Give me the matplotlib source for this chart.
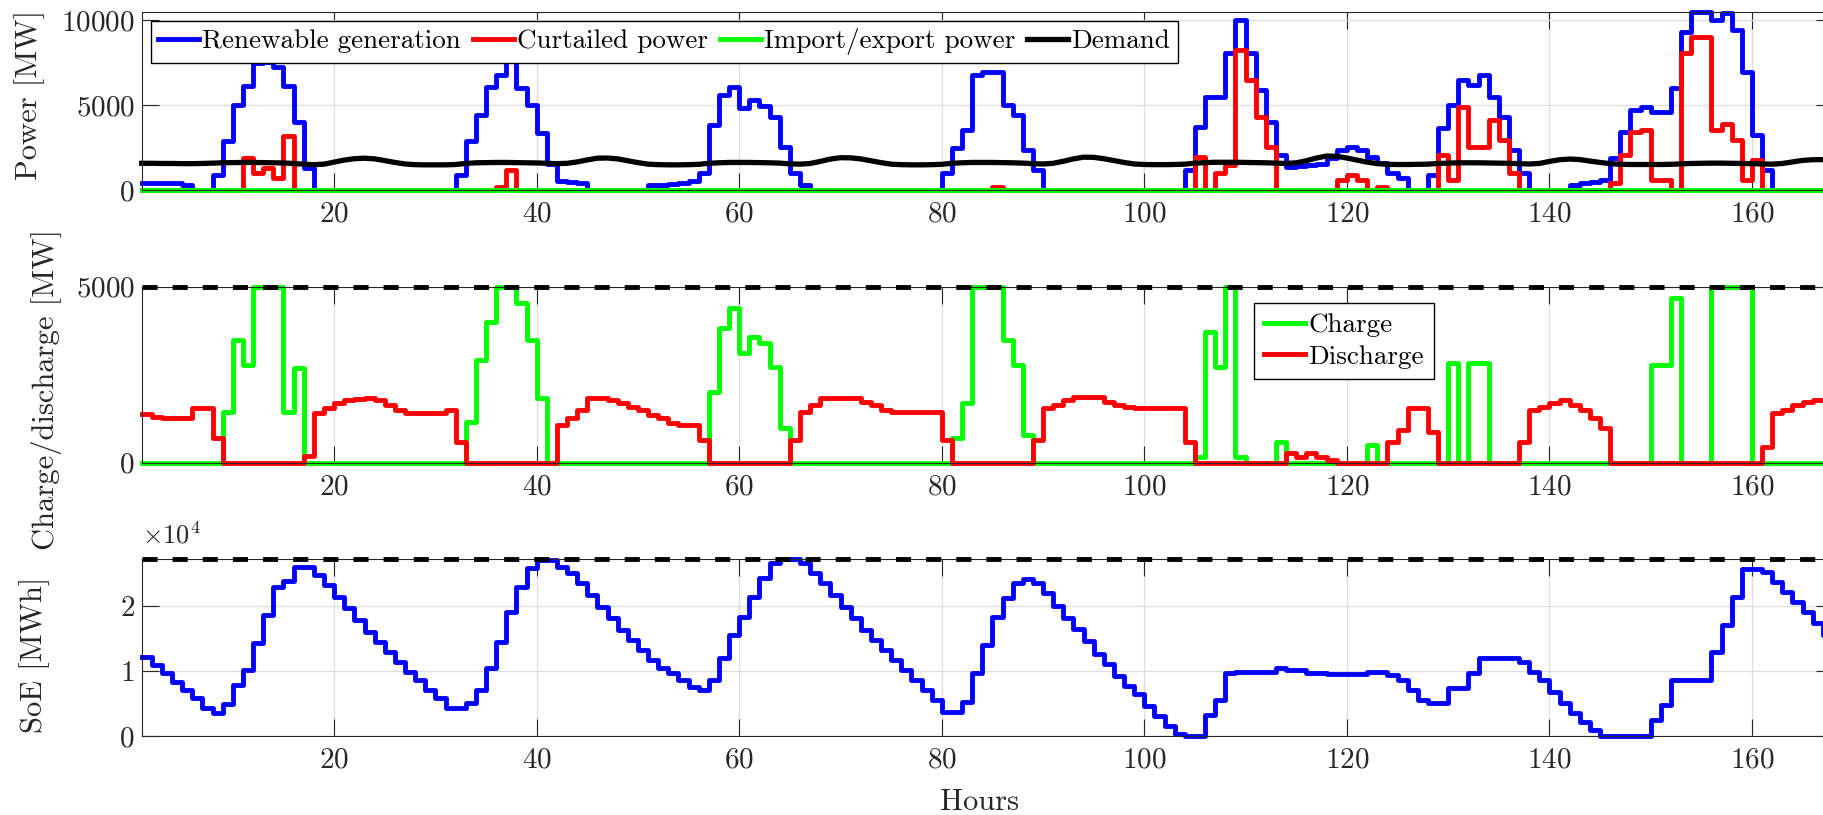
import numpy as np
import matplotlib
matplotlib.use("Agg")
import matplotlib.pyplot as plt

plt.rcParams['font.family'] = ['cmr10', 'DejaVu Serif']
plt.rcParams['mathtext.fontset'] = 'cm'
plt.rcParams['axes.formatter.use_mathtext'] = True

hours = np.arange(1, 169)

# hourly values, one row of 24 per day
renewable = [
    390, 390, 390, 390, 300, 0, 0, 900, 2900, 5000, 6100, 7450, 7550, 7250, 6100, 4000, 1300, 0, 0, 0, 0, 0, 0, 0,
    0, 0, 0, 0, 0, 0, 0, 900, 2900, 4400, 6080, 6760, 7650, 6000, 5000, 3330, 1550, 550, 450, 400, 0, 0, 0, 0,
    0, 0, 280, 320, 380, 430, 500, 1000, 3820, 5590, 6080, 4800, 5290, 4940, 4310, 2550, 980, 290, 0, 0, 0, 0, 0, 0,
    0, 0, 0, 0, 0, 0, 0, 1000, 2450, 3530, 6760, 6960, 6960, 5000, 4430, 2350, 1180, 0, 0, 0, 0, 0, 0, 0,
    0, 0, 0, 0, 0, 0, 0, 1180, 3730, 5490, 5490, 8040, 10000, 8040, 5880, 4020, 2060, 1370, 1400, 1450, 1500, 1900, 2350, 2550,
    2350, 1960, 1570, 980, 700, 0, 0, 880, 3630, 5000, 6470, 6180, 6760, 5490, 4310, 2350, 980, 0, 0, 0, 0, 290, 390, 480,
    590, 1860, 3430, 4700, 4900, 4600, 4600, 5980, 9310, 10450, 10450, 10000, 10400, 9410, 6960, 3240, 1180, 0, 0, 0, 0, 0, 0, 0,
]
curtailed = [
    0, 0, 0, 0, 0, 0, 0, 0, 0, 0, 1900, 1000, 1300, 700, 3200, 0, 0, 0, 0, 0, 0, 0, 0, 0,
    0, 0, 0, 0, 0, 0, 0, 0, 0, 0, 0, 200, 1200, 0, 0, 0, 0, 0, 0, 0, 0, 0, 0, 0,
    0, 0, 0, 0, 0, 0, 0, 0, 0, 0, 0, 0, 0, 0, 0, 0, 0, 0, 0, 0, 0, 0, 0, 0,
    0, 0, 0, 0, 0, 0, 0, 0, 0, 0, 0, 0, 200, 0, 0, 0, 0, 0, 0, 0, 0, 0, 0, 0,
    0, 0, 0, 0, 0, 0, 0, 0, 1960, 0, 980, 1470, 8240, 6470, 4310, 2550, 0, 0, 0, 0, 0, 0, 590, 880,
    590, 0, 200, 0, 0, 0, 0, 0, 2060, 590, 4900, 2550, 2550, 4120, 2940, 980, 0, 0, 0, 0, 0, 0, 0, 0,
    0, 400, 2060, 3400, 3530, 590, 590, 0, 8040, 9020, 9020, 3530, 3900, 2940, 590, 1760, 0, 0, 0, 0, 0, 0, 0, 0,
]
import_export = [0] * 168
demand = [
    1570, 1570, 1560, 1560, 1550, 1550, 1560, 1580, 1600, 1610, 1620, 1620, 1610, 1600, 1590, 1560, 1520, 1490, 1520, 1640, 1760, 1840, 1870, 1830,
    1730, 1620, 1530, 1490, 1480, 1480, 1480, 1500, 1560, 1600, 1610, 1620, 1620, 1610, 1600, 1590, 1570, 1550, 1570, 1650, 1770, 1870, 1880, 1830,
    1720, 1610, 1520, 1490, 1480, 1480, 1490, 1510, 1570, 1600, 1620, 1620, 1620, 1610, 1600, 1580, 1540, 1520, 1560, 1680, 1820, 1900, 1890, 1830,
    1720, 1610, 1520, 1490, 1480, 1480, 1490, 1510, 1570, 1600, 1620, 1620, 1620, 1610, 1600, 1580, 1550, 1530, 1570, 1690, 1830, 1930, 1920, 1840,
    1730, 1620, 1530, 1500, 1490, 1490, 1500, 1520, 1580, 1610, 1630, 1630, 1630, 1620, 1610, 1600, 1580, 1560, 1600, 1720, 1880, 2000, 1980, 1880,
    1760, 1640, 1550, 1510, 1500, 1500, 1510, 1520, 1560, 1580, 1600, 1600, 1600, 1590, 1580, 1570, 1550, 1530, 1560, 1680, 1780, 1820, 1790, 1700,
    1620, 1550, 1510, 1500, 1500, 1500, 1500, 1510, 1540, 1560, 1570, 1580, 1580, 1570, 1560, 1550, 1530, 1520, 1560, 1650, 1740, 1780, 1790, 1760,
]
charge = [
    0, 0, 0, 0, 0, 0, 0, 0, 1450, 3490, 2780, 5000, 5000, 5000, 1450, 2680, 0, 0, 0, 0, 0, 0, 0, 0,
    0, 0, 0, 0, 0, 0, 0, 0, 1165, 2920, 4000, 5000, 5000, 4530, 3490, 1830, 0, 0, 0, 0, 0, 0, 0, 0,
    0, 0, 0, 0, 0, 0, 0, 0, 2020, 3820, 4390, 3110, 3580, 3390, 2730, 980, 0, 0, 0, 0, 0, 0, 0, 0,
    0, 0, 0, 0, 0, 0, 0, 0, 700, 1690, 5000, 5000, 5000, 3490, 2780, 790, 0, 0, 0, 0, 0, 0, 0, 0,
    0, 0, 0, 0, 0, 0, 0, 0, 170, 3720, 2730, 5000, 170, 0, 0, 0, 600, 0, 0, 0, 0, 0, 0, 0,
    0, 500, 0, 0, 0, 0, 0, 0, 0, 2820, 0, 2820, 2820, 0, 0, 0, 0, 0, 0, 0, 0, 0, 0, 0,
    0, 0, 0, 0, 0, 2780, 2780, 4670, 0, 0, 0, 5000, 5000, 5000, 5000, 0, 0, 0, 0, 0, 0, 0, 0, 0,
]
discharge = [
    1380, 1310, 1260, 1260, 1260, 1550, 1550, 700, 0, 0, 0, 0, 0, 0, 0, 0, 200, 1400, 1550, 1690, 1780, 1800, 1830, 1780,
    1640, 1500, 1420, 1400, 1400, 1400, 1500, 600, 0, 0, 0, 0, 0, 0, 0, 0, 0, 1070, 1260, 1500, 1830, 1830, 1780, 1690,
    1590, 1500, 1350, 1260, 1120, 1070, 1070, 645, 0, 0, 0, 0, 0, 0, 0, 0, 645, 1450, 1640, 1830, 1830, 1830, 1830, 1730,
    1640, 1500, 1450, 1450, 1450, 1450, 1450, 645, 0, 0, 0, 0, 0, 0, 0, 0, 645, 1545, 1640, 1780, 1880, 1880, 1880, 1730,
    1640, 1590, 1545, 1545, 1545, 1545, 1545, 600, 0, 0, 0, 0, 0, 0, 0, 0, 0, 265, 170, 280, 170, 80, 0, 0,
    0, 0, 0, 600, 930, 1545, 1545, 880, 0, 0, 0, 0, 0, 0, 0, 0, 600, 1500, 1590, 1690, 1780, 1640, 1500, 1260,
    1000, 0, 0, 0, 0, 0, 0, 0, 0, 0, 0, 0, 0, 0, 0, 0, 455, 1400, 1500, 1640, 1730, 1780, 1780, 1780,
]
soe = [
    12160, 10890, 9610, 8340, 7060, 5780, 4350, 3580, 4860, 7820, 10120, 14210, 18560, 22900, 23700, 25970, 25970, 24690, 23160, 21370, 19580, 17790, 16000, 14470,
    12930, 11400, 9860, 8590, 7060, 5780, 4250, 4250, 5010, 7060, 10380, 14470, 19070, 22900, 25720, 26990, 26990, 25970, 24950, 23420, 21630, 19840, 18050, 16260,
    14720, 13190, 11660, 10380, 9610, 8590, 7570, 7060, 8590, 11910, 15490, 18300, 21370, 24180, 26480, 27150, 27150, 26480, 24950, 23420, 21630, 19840, 18050, 16260,
    14720, 13190, 11660, 10130, 8590, 7060, 5520, 3730, 3730, 5270, 9610, 13960, 18300, 21120, 23420, 24030, 23420, 21880, 19950, 18150, 16360, 14570, 12520, 10990,
    9200, 7670, 6390, 4600, 3070, 1530, 250, 0, 0, 3220, 5520, 9610, 9870, 9870, 9870, 9870, 10380, 10130, 10130, 9740, 9740, 9500, 9500, 9500,
    9500, 9870, 9870, 9360, 8590, 7060, 5520, 5010, 5010, 7310, 7310, 9610, 11910, 11910, 11910, 11910, 11400, 9860, 8590, 6800, 5010, 3480, 2200, 920,
    0, 0, 0, 0, 0, 2450, 4750, 8590, 8590, 8590, 8590, 12930, 17020, 21370, 25560, 25560, 25200, 23670, 22130, 20600, 19070, 17280, 15500, 15500,
]
p_max = 5000
soe_max = 27150

W, H = 1824, 815
fig = plt.figure(figsize=(W / 100, H / 100), dpi=100)


def place(top, bottom):
    return [141.7 / W, 1 - bottom / H, (1833 - 141.7) / W, (bottom - top) / H]


ax1 = fig.add_axes(place(12.3, 190))
ax2 = fig.add_axes(place(286.7, 462.7))
ax3 = fig.add_axes(place(559, 736))

dark = '#262626'
lw = 3.5
for ax in (ax1, ax2, ax3):
    ax.set_xlim(1, 168)
    ax.set_xticks(range(20, 161, 20))
    ax.grid(True, color='#dedede', lw=1.0)
    ax.set_axisbelow(True)
    ax.tick_params(direction='in', length=12, width=0.8, top=True, right=True,
                   labelsize=21, colors=dark)
    ax.tick_params(axis='x', pad=8)
    ax.tick_params(axis='y', pad=5)
    for s in ax.spines.values():
        s.set_color(dark)
        s.set_linewidth(0.8)

# panel 1: power balance
ax1.step(hours, renewable, where='post', color='b', lw=lw, label='Renewable generation', clip_on=False)
ax1.step(hours, curtailed, where='post', color='r', lw=lw, label='Curtailed power', clip_on=False)
ax1.step(hours, import_export, where='post', color='#00ff00', lw=lw, label='Import/export power', clip_on=False)
ax1.plot(hours, demand, color='k', lw=lw + 0.3, label='Demand', clip_on=False)
ax1.set_ylim(0, max(renewable))
ax1.set_yticks([0, 5000, 10000])
ax1.legend(loc='upper left', bbox_to_anchor=(0.0053, 0.953), ncol=4, fontsize=19.5,
           handlelength=1.5, handletextpad=0.12, columnspacing=0.45, borderpad=0.28,
           borderaxespad=0, fancybox=False, framealpha=1, edgecolor='k')

# panel 2: storage power
ax2.step(hours, charge, where='post', color='#00ff00', lw=lw, label='Charge', clip_on=False)
ax2.step(hours, discharge, where='post', color='r', lw=lw, label='Discharge', clip_on=False)
ax2.axhline(p_max, color='k', lw=lw, ls=(0, (3.1, 3.1)), clip_on=False, zorder=4)
ax2.set_ylim(0, p_max)
ax2.set_yticks([0, 5000])
ax2.legend(loc='upper left', bbox_to_anchor=(0.6577, 0.9074), fontsize=19.5,
           handlelength=1.5, handletextpad=0.12, labelspacing=0.28, borderpad=0.38,
           borderaxespad=0, fancybox=False, framealpha=1, edgecolor='k')

# panel 3: state of energy
ax3.step(hours, soe, where='post', color='b', lw=lw, clip_on=False)
ax3.axhline(soe_max, color='k', lw=lw, ls=(0, (3.1, 3.1)), clip_on=False, zorder=4)
ax3.set_ylim(0, soe_max)
ax3.set_yticks([0, 10000, 20000])
ax3.set_yticklabels(['0', '1', '2'])
ax3.text(0.0, 1.06, r'$\times10^{4}$', transform=ax3.transAxes, ha='left', va='bottom',
         fontsize=19, color=dark)

fig.text(30 / W, 1 - 95 / H, 'Power [MW]', rotation=90, ha='center', va='center', fontsize=22, color=dark)
fig.text(47 / W, 1 - 390 / H, 'Charge/discharge [MW]', rotation=90, ha='center', va='center', fontsize=22, color=dark)
fig.text(35 / W, 1 - 655 / H, 'SoE [MWh]', rotation=90, ha='center', va='center', fontsize=22, color=dark)
fig.text(980 / W, 1 - 802 / H, 'Hours', ha='center', va='center', fontsize=22, color=dark)

fig.savefig('out.png', dpi=100)
